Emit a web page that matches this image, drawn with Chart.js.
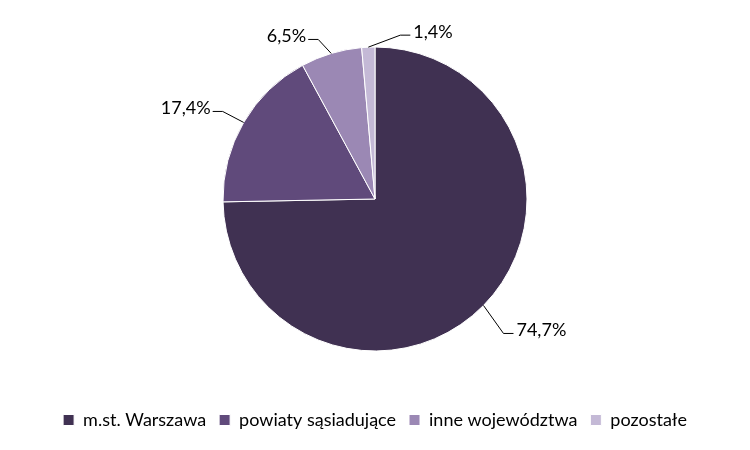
<!DOCTYPE html>
<html>
<head>
<meta charset="utf-8">
<script src="https://cdn.jsdelivr.net/npm/chart.js@4"></script>
<style>
  html, body { margin: 0; padding: 0; background: #fff; }
</style>
</head>
<body>
<canvas id="myPieChart" width="750" height="450"></canvas>
<script>
// chart data
var categories = ['m.st. Warszawa', 'powiaty sąsiadujące', 'inne województwa', 'pozostałe'];
var shares = [74.7, 17.4, 6.5, 1.4];
var sliceColors = ['#403152', '#604a7b', '#9b88b4', '#c4b9d6'];

// where each label's leader line bends, relative to the slice edge
var elbowOffsets = [[20, 28], [-21, -11], [-13, -14], [32, -12]];

// draws "74,7%" style labels with leader lines
var outsideLabels = {
    id: 'outsideLabels',
    afterDraw: function (chart) {
        var ctx = chart.ctx;
        var meta = chart.getDatasetMeta(0);
        ctx.save();
        ctx.strokeStyle = '#000';
        ctx.lineWidth = 1;
        ctx.fillStyle = '#000';
        ctx.font = '18px Lato';
        ctx.textBaseline = 'middle';
        meta.data.forEach(function (arc, i) {
            var p = arc.getProps(['x', 'y', 'startAngle', 'endAngle', 'outerRadius'], true);
            var mid = (p.startAngle + p.endAngle) / 2;
            var ex = p.x + Math.cos(mid) * p.outerRadius;
            var ey = p.y + Math.sin(mid) * p.outerRadius;
            var bx = ex + elbowOffsets[i][0];
            var by = ey + elbowOffsets[i][1];
            var right = bx > p.x;
            var hx = bx + (right ? 10 : -10);
            ctx.beginPath();
            ctx.moveTo(ex, ey);
            ctx.lineTo(bx, by);
            ctx.lineTo(hx, by);
            ctx.stroke();
            var txt = shares[i].toFixed(1).replace('.', ',') + '%';
            ctx.textAlign = right ? 'left' : 'right';
            ctx.fillText(txt, hx + (right ? 3 : -2), by - 3);
        });
        ctx.restore();
    }
};

var ctx = document.getElementById('myPieChart').getContext('2d');

var myPieChart = new Chart(ctx, {
    type: 'pie',
    data: {
        labels: categories,
        datasets: [{
            data: shares,
            backgroundColor: sliceColors,
            borderColor: '#ffffff',
            borderWidth: 1,
            radius: 152
        }]
    },
    options: {
        responsive: false,
        animation: false,
        layout: {
            padding: { top: 0, bottom: 11 }
        },
        plugins: {
            legend: {
                position: 'bottom',
                labels: {
                    boxWidth: 11,
                    boxHeight: 11,
                    padding: 13,
                    color: '#000',
                    font: { family: 'Lato', size: 18 }
                }
            },
            tooltip: { enabled: false }
        }
    },
    plugins: [outsideLabels]
});
</script>
</body>
</html>
